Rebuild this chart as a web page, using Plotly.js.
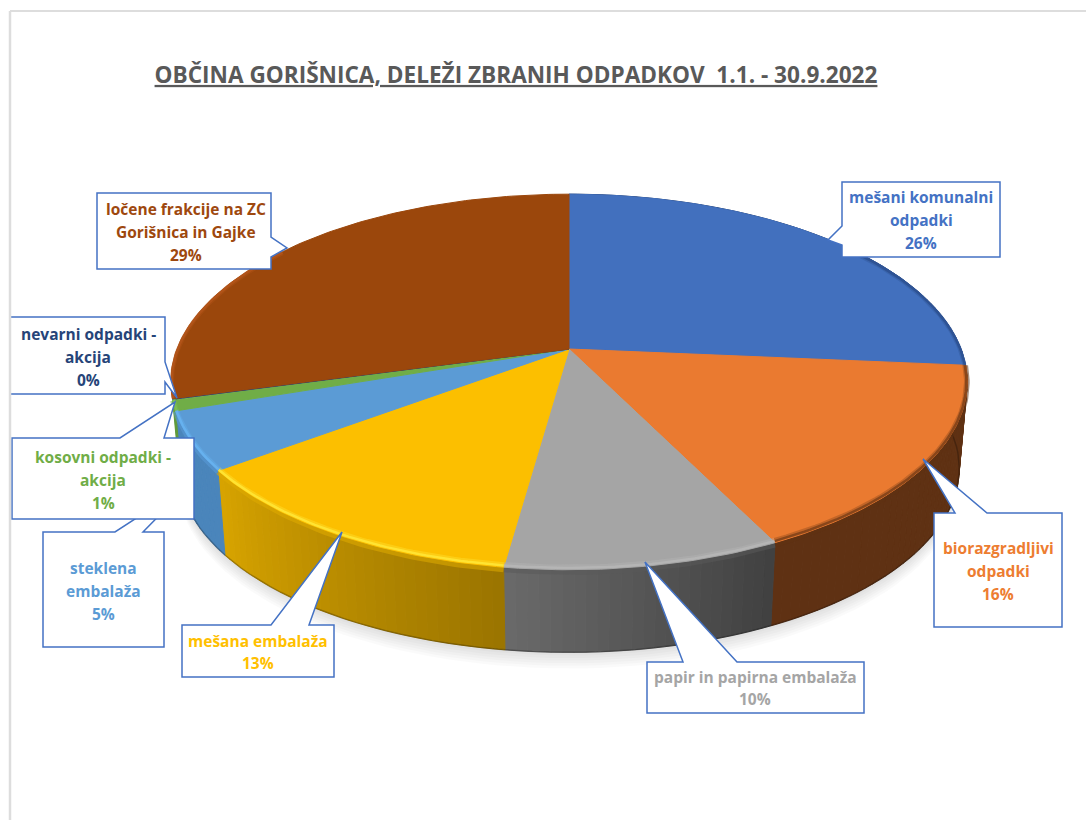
<!DOCTYPE html>
<html><head><meta charset="utf-8">
<script src="https://cdn.plot.ly/plotly-3.0.1.min.js"></script>
<style>html,body{margin:0;padding:0;background:#fff}#c{width:1086px;height:820px}</style>
</head><body><div id="c"></div>
<script>
const categories=['mešani komunalni odpadki','biorazgradljivi odpadki','papir in papirna embalaža','mešana embalaža','steklena embalaža','kosovni odpadki - akcija','nevarni odpadki - akcija','ločene frakcije na ZC Gorišnica in Gajke'];
const shares=[26.4,16.3,9.5,12.6,5.0,0.9,0.1,29.2];
const topColors=['#4270BE','#EA7A30','#A5A5A5','#FCBF00','#5B9BD5','#70AD47','#264478','#9B470C'];
const sideFrom=['#1f3864','#5f3113','#404040','#9a7400','#4a85bb','#5f9a3a','#264478','#6e320a'];
const sideTo=['#1f3864','#5f3113','#6a6a6a','#d8a400','#4a85bb','#5f9a3a','#264478','#6e320a'];
const rimColors=['#2c4f8e','#7a3f18','#b8b8b8','#FFE93A','#68B4F2','#7fc052','#264478','#B4551A'];
const blurColors=['#2c4f8e','#5f3113','#5a5a5a','#e0ac00','#5a9ad8','#70AD47','#264478','#9B470C'];
const labelLines=[['mešani komunalni','odpadki','26%'],['biorazgradljivi','odpadki','16%'],['papir in papirna embalaža','10%'],['mešana embalaža','13%'],['steklena','embalaža','5%'],['kosovni odpadki -','akcija','1%'],['nevarni odpadki -','akcija','0%'],['ločene frakcije na ZC','Gorišnica in Gajke','29%']];
const textColors=['#4472C4','#ED7D31','#A5A5A5','#FFC000','#5B9BD5','#70AD47','#264478','#9E480E'];
const labelX=[921,998,755,258,103,103,88,186];
const labelY=[[197,220,243],[548,571,594],[677,699],[641,663],[568,591,614],[457,480,503],[334,357,380],[209,232,255]];
// callout outline: box [x0,y0,x1,y1], wedge [bx1,by1,tipx,tipy,bx2,by2]
const boxes=[[842,182,1000,257],[934,513,1062,627],[647,662,864,713],[182,625,334,677],[43,532,164,647],[12,438,194,519],[9,317,165,394],[97,193,271,269]];
const wedges=[[842,226,828,240,842,245],[955,513,923,459,987,513],[683,662,645,562,737,662],[271,625,342,532,309,625],[115,532,192,482,143,532],[120,438,175,402,164,438],[165,362,177,398,165,382],[271,237,287,248,271,257]];
const drawOrder=[0,1,2,3,4,5,6,7];

const total=shares.reduce((a,b)=>a+b,0);
const cx=569,cy=349,a=392,b=182,q=0.1755,sc=0.98,drop=87;
function rim(f){const t=2*Math.PI*f,u=Math.sin(t),v=-Math.cos(t),d=1-q*v;return [cx+a*u/d,cy+b*v/d];}
function under(f){const p=rim(f);return [cx+(p[0]-cx)*sc,cy+(p[1]-cy)*sc+drop];}
function hex(c){return [1,3,5].map(i=>parseInt(c.substr(i,2),16));}
function mix(c1,c2,t){const A=hex(c1),B=hex(c2);return 'rgb('+A.map((x,i)=>Math.round(x+(B[i]-x)*t)).join(',')+')';}
const traces=[];
function poly(xs,ys,col,op){traces.push({type:'scatter',mode:'lines',x:xs,y:ys,fill:'toself',fillcolor:col,line:{color:col,width:op<1?0:1},opacity:op,hoverinfo:'skip',showlegend:false});}
let acc=0;const bounds=shares.map(s=>{const r=[acc/total,(acc+s)/total];acc+=s;return r;});
const wallEnd=bounds[5][1];
// soft shadow
for(let k=1;k<=7;k++){const xs=[],ys=[];for(let i=0;i<=120;i++){const p=under(wallEnd*i/120);xs.push(p[0]);ys.push(p[1]+k*2.6-2);}poly(xs,ys,'#000000',0.018);}
// rim wall, slice by slice
shares.forEach((s,i)=>{const [f0,f1]=bounds[i];if(f0>=wallEnd)return;const n=Math.max(1,Math.round(s*2.5));
 for(let j=0;j<n;j++){const g0=f0+(f1-f0)*j/n,g1=f0+(f1-f0)*(j+1)/n;const p=[rim(g0),rim(g1),under(g1),under(g0)];
  poly(p.map(e=>e[0]).concat(p[0][0]),p.map(e=>e[1]).concat(p[0][1]),mix(sideFrom[i],sideTo[i],(j+0.5)/n),1);}});
// dark lower edge of the wall
{const xs=[],ys=[];for(let i=0;i<=120;i++){const p=under(wallEnd*i/120);xs.push(p[0]);ys.push(p[1]);}
 traces.push({type:'scatter',mode:'lines',x:xs,y:ys,line:{color:'#000000',width:1.5},opacity:0.25,hoverinfo:'skip',showlegend:false});}
// soft blur where the top meets the wall
function rimLine(i,sx,sy,col,w,op){const [f0,f1]=bounds[i];const xs=[],ys=[],n=Math.max(2,Math.ceil(shares[i]*4));
 for(let j=0;j<=n;j++){const p=rim(f0+(f1-f0)*j/n);xs.push(cx+(p[0]-cx)*sx);ys.push(cy+(p[1]-cy)*sy);}
 if(i===0){const o=Math.ceil(n*0.55);xs.splice(0,o);ys.splice(0,o);}
 if(i===7){const o=Math.floor(n*0.5);xs.splice(o);ys.splice(o);}
 traces.push({type:'scatter',mode:'lines',x:xs,y:ys,line:{color:col,width:w},opacity:op,hoverinfo:'skip',showlegend:false});}
shares.forEach((s,i)=>{if(s<0.5||i===7||i===0)return;rimLine(i,1.0,1.012,blurColors[i],5,0.55);});
// top faces
shares.forEach((s,i)=>{const [f0,f1]=bounds[i];const xs=[cx],ys=[cy],n=Math.max(2,Math.ceil(s*4));
 for(let j=0;j<=n;j++){const p=rim(f0+(f1-f0)*j/n);xs.push(p[0]);ys.push(p[1]);}
 xs.push(cx);ys.push(cy);poly(xs,ys,topColors[i],1);});
// bevel along the rim
shares.forEach((s,i)=>{if(s<0.5)return;rimLine(i,0.997,0.986,rimColors[i],4,0.35);rimLine(i,0.998,0.992,rimColors[i],2.5,0.8);});
// callouts
const shapes=[];
function sidePath(b,w){
 const [x0,y0,x1,y1]=b,[ax,ay,tx,ty,cx2,cy2]=w;
 if(ay===y0) return `M${x0},${y0}L${ax},${ay}L${tx},${ty}L${cx2},${cy2}L${x1},${y0}L${x1},${y1}L${x0},${y1}Z`;
 if(ax===x1) return `M${x0},${y0}L${x1},${y0}L${ax},${ay}L${tx},${ty}L${cx2},${cy2}L${x1},${y1}L${x0},${y1}Z`;
 return `M${x0},${y0}L${x1},${y0}L${x1},${y1}L${x0},${y1}L${cx2},${cy2}L${tx},${ty}L${ax},${ay}Z`;}
drawOrder.forEach(i=>shapes.push({type:'path',path:sidePath(boxes[i],wedges[i]),fillcolor:'#FFFFFF',line:{color:'#4472C4',width:1.5},layer:'above'}));
shapes.push({type:'rect',x0:0,x1:9,y0:0,y1:820,fillcolor:'#fff',line:{width:0},layer:'above'});
shapes.push({type:'line',x0:10,x1:10,y0:11,y1:820,line:{color:'#DDDDDD',width:2.5},layer:'above'},{type:'line',x0:10,x1:1086,y0:11,y1:11,line:{color:'#DDDDDD',width:2},layer:'above'});
const annotations=[];
labelLines.forEach((ls,i)=>ls.forEach((t,j)=>annotations.push({x:labelX[i],y:labelY[i][j],xref:'x',yref:'y',text:t,showarrow:false,xanchor:'center',yanchor:'middle',font:{family:'"Open Sans",sans-serif',size:15.5,color:textColors[i],weight:700}})));
Plotly.newPlot('c',traces,{
 width:1086,height:820,margin:{l:0,r:0,t:0,b:0},paper_bgcolor:'#fff',plot_bgcolor:'#fff',showlegend:false,hovermode:false,
 xaxis:{range:[0,1086],visible:false,fixedrange:true},yaxis:{range:[820,0],visible:false,fixedrange:true},
 title:{text:'OBČINA GORIŠNICA, DELEŽI ZBRANIH ODPADKOV  1.1. - 30.9.2022',x:516/1086,xanchor:'center',y:1-75/820,yanchor:'middle',font:{family:'"Open Sans",sans-serif',size:22.6,color:'#595959',weight:700,lineposition:'under'}},
 shapes,annotations},{displayModeBar:false,staticPlot:true});
</script></body></html>
